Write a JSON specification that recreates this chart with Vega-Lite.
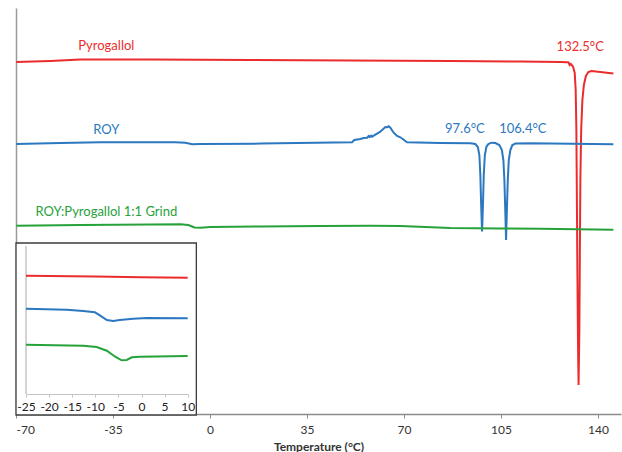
{
  "$schema": "https://vega.github.io/schema/vega-lite/v6.json",
  "width": 605,
  "height": 406,
  "autosize": {"type": "none"},
  "padding": {"left": 16, "top": 8, "right": 1, "bottom": 38},
  "config": {
    "view": {"stroke": null},
    "font": "Lato",
    "axis": {"labelFont": "Lato", "titleFont": "Lato", "grid": false}
  },
  "datasets": {
    "main": [
      {"s": "Pyrogallol", "T": -69.9, "v": 352},
      {"s": "Pyrogallol", "T": -57.6, "v": 353},
      {"s": "Pyrogallol", "T": -46.8, "v": 354.5},
      {"s": "Pyrogallol", "T": -21.5, "v": 354.5},
      {"s": "Pyrogallol", "T": 14.6, "v": 354},
      {"s": "Pyrogallol", "T": 50.6, "v": 353.5},
      {"s": "Pyrogallol", "T": 86.7, "v": 353},
      {"s": "Pyrogallol", "T": 112.0, "v": 352.5},
      {"s": "Pyrogallol", "T": 126.4, "v": 352},
      {"s": "Pyrogallol", "T": 128.85, "v": 351.7},
      {"s": "Pyrogallol", "T": 129.4, "v": 351.5},
      {"s": "Pyrogallol", "T": 129.78, "v": 349},
      {"s": "Pyrogallol", "T": 130.2, "v": 350},
      {"s": "Pyrogallol", "T": 131.0, "v": 347.3},
      {"s": "Pyrogallol", "T": 131.6, "v": 341},
      {"s": "Pyrogallol", "T": 131.95, "v": 324},
      {"s": "Pyrogallol", "T": 132.2, "v": 284},
      {"s": "Pyrogallol", "T": 132.38, "v": 214},
      {"s": "Pyrogallol", "T": 132.56, "v": 144},
      {"s": "Pyrogallol", "T": 132.78, "v": 74},
      {"s": "Pyrogallol", "T": 132.99, "v": 29},
      {"s": "Pyrogallol", "T": 133.28, "v": 84},
      {"s": "Pyrogallol", "T": 133.46, "v": 164},
      {"s": "Pyrogallol", "T": 133.64, "v": 234},
      {"s": "Pyrogallol", "T": 133.93, "v": 284},
      {"s": "Pyrogallol", "T": 134.37, "v": 314},
      {"s": "Pyrogallol", "T": 134.91, "v": 329},
      {"s": "Pyrogallol", "T": 135.63, "v": 338},
      {"s": "Pyrogallol", "T": 136.53, "v": 342},
      {"s": "Pyrogallol", "T": 137.62, "v": 343},
      {"s": "Pyrogallol", "T": 140.86, "v": 342},
      {"s": "Pyrogallol", "T": 145.55, "v": 340.5},

      {"s": "ROY", "T": -69.9, "v": 270},
      {"s": "ROY", "T": -54.0, "v": 271},
      {"s": "ROY", "T": -39.6, "v": 271.7},
      {"s": "ROY", "T": -12.5, "v": 271.7},
      {"s": "ROY", "T": -8.9, "v": 271.2},
      {"s": "ROY", "T": -6.4, "v": 269.8},
      {"s": "ROY", "T": -3.5, "v": 270},
      {"s": "ROY", "T": 18.2, "v": 270.4},
      {"s": "ROY", "T": 51.26, "v": 271.7},
      {"s": "ROY", "T": 52.08, "v": 274},
      {"s": "ROY", "T": 54.25, "v": 275},
      {"s": "ROY", "T": 55.44, "v": 276},
      {"s": "ROY", "T": 56.67, "v": 276.3},
      {"s": "ROY", "T": 57.25, "v": 278},
      {"s": "ROY", "T": 57.61, "v": 277},
      {"s": "ROY", "T": 58.11, "v": 278.3},
      {"s": "ROY", "T": 58.47, "v": 277.3},
      {"s": "ROY", "T": 59.66, "v": 279.3},
      {"s": "ROY", "T": 61.47, "v": 282.3},
      {"s": "ROY", "T": 63.27, "v": 287},
      {"s": "ROY", "T": 63.88, "v": 286.7},
      {"s": "ROY", "T": 64.46, "v": 287.7},
      {"s": "ROY", "T": 65.08, "v": 286.3},
      {"s": "ROY", "T": 66.27, "v": 281.3},
      {"s": "ROY", "T": 67.5, "v": 278},
      {"s": "ROY", "T": 68.69, "v": 276.7},
      {"s": "ROY", "T": 69.66, "v": 274.7},
      {"s": "ROY", "T": 71.1, "v": 271.7},
      {"s": "ROY", "T": 83.12, "v": 271},
      {"s": "ROY", "T": 93.95, "v": 270.7},
      {"s": "ROY", "T": 95.75, "v": 270},
      {"s": "ROY", "T": 96.65, "v": 267},
      {"s": "ROY", "T": 97.19, "v": 259},
      {"s": "ROY", "T": 97.55, "v": 239},
      {"s": "ROY", "T": 97.84, "v": 209},
      {"s": "ROY", "T": 98.17, "v": 182.5},
      {"s": "ROY", "T": 98.49, "v": 209},
      {"s": "ROY", "T": 98.78, "v": 239},
      {"s": "ROY", "T": 99.18, "v": 259},
      {"s": "ROY", "T": 99.72, "v": 267},
      {"s": "ROY", "T": 100.44, "v": 270},
      {"s": "ROY", "T": 101.53, "v": 271.3},
      {"s": "ROY", "T": 102.97, "v": 271},
      {"s": "ROY", "T": 104.41, "v": 269},
      {"s": "ROY", "T": 105.32, "v": 264},
      {"s": "ROY", "T": 105.86, "v": 254},
      {"s": "ROY", "T": 106.22, "v": 234},
      {"s": "ROY", "T": 106.54, "v": 204},
      {"s": "ROY", "T": 106.83, "v": 174},
      {"s": "ROY", "T": 107.12, "v": 204},
      {"s": "ROY", "T": 107.45, "v": 234},
      {"s": "ROY", "T": 107.81, "v": 254},
      {"s": "ROY", "T": 108.38, "v": 264},
      {"s": "ROY", "T": 109.11, "v": 269},
      {"s": "ROY", "T": 110.19, "v": 270.5},
      {"s": "ROY", "T": 115.6, "v": 270.7},
      {"s": "ROY", "T": 145.55, "v": 269.7},

      {"s": "Grind", "T": -69.9, "v": 188.3},
      {"s": "Grind", "T": -46.8, "v": 189},
      {"s": "Grind", "T": -21.5, "v": 189.5},
      {"s": "Grind", "T": -10.7, "v": 189.7},
      {"s": "Grind", "T": -7.8, "v": 189},
      {"s": "Grind", "T": -5.6, "v": 186.5},
      {"s": "Grind", "T": -3.5, "v": 186.3},
      {"s": "Grind", "T": 0.1, "v": 187},
      {"s": "Grind", "T": 18.2, "v": 187.5},
      {"s": "Grind", "T": 39.8, "v": 188},
      {"s": "Grind", "T": 57.8, "v": 188.3},
      {"s": "Grind", "T": 68.7, "v": 188},
      {"s": "Grind", "T": 86.7, "v": 186},
      {"s": "Grind", "T": 104.8, "v": 185.5},
      {"s": "Grind", "T": 119.2, "v": 185.3},
      {"s": "Grind", "T": 145.55, "v": 184.3}
    ],
    "inset": [
      {"s": "Pyrogallol", "T": -25, "v": 138.3},
      {"s": "Pyrogallol", "T": -10, "v": 137.5},
      {"s": "Pyrogallol", "T": 0, "v": 136.8},
      {"s": "Pyrogallol", "T": 10, "v": 136.3},
      {"s": "ROY", "T": -25, "v": 105.3},
      {"s": "ROY", "T": -16.2, "v": 104.3},
      {"s": "ROY", "T": -12.6, "v": 103},
      {"s": "ROY", "T": -10.1, "v": 101.7},
      {"s": "ROY", "T": -9, "v": 98.7},
      {"s": "ROY", "T": -7.5, "v": 94},
      {"s": "ROY", "T": -6.1, "v": 93},
      {"s": "ROY", "T": -4.7, "v": 94},
      {"s": "ROY", "T": -1.8, "v": 95.3},
      {"s": "ROY", "T": 1.1, "v": 96},
      {"s": "ROY", "T": 10, "v": 95.7},
      {"s": "Grind", "T": -25, "v": 69.3},
      {"s": "Grind", "T": -12.6, "v": 68.3},
      {"s": "Grind", "T": -9.7, "v": 67},
      {"s": "Grind", "T": -7.5, "v": 63.3},
      {"s": "Grind", "T": -5.7, "v": 57.3},
      {"s": "Grind", "T": -4.3, "v": 53.7},
      {"s": "Grind", "T": -3.2, "v": 54},
      {"s": "Grind", "T": -2.1, "v": 56.7},
      {"s": "Grind", "T": -0.3, "v": 57.3},
      {"s": "Grind", "T": 10, "v": 58}
    ],
    "labels": [
      {"s": "Pyrogallol", "T": -37.4, "v": 368, "label": "Pyrogallol"},
      {"s": "ROY", "T": -37.4, "v": 284, "label": "ROY"},
      {"s": "Grind", "T": -37.4, "v": 202, "label": "ROY:Pyrogallol 1:1 Grind"},
      {"s": "Pyrogallol", "T": 133.6, "v": 367, "label": "132.5°C"},
      {"s": "ROY", "T": 91.96, "v": 285, "label": "97.6°C"},
      {"s": "ROY", "T": 112.9, "v": 285, "label": "106.4°C"}
    ],
    "box": [
      {"x1": -70, "x2": -4.93, "y1": -1, "y2": 171}
    ],
    "insetaxis": [
      {"T": -25, "v1": 20, "v2": 168}
    ]
  },
  "layer": [
    {
      "encoding": {
        "x": {
          "type": "quantitative",
          "scale": {"domain": [-70, 148.3], "nice": false, "zero": false},
          "axis": {
            "values": [-70, -35, 0, 35, 70, 105, 140],
            "labelExpr": "'' + datum.value",
            "title": "Temperature (°C)",
            "domainColor": "#8c8c8c",
            "domainWidth": 1.3,
            "tickColor": "#8c8c8c",
            "tickSize": 4,
            "labelFontSize": 12,
            "labelColor": "#333333",
            "labelPadding": 6,
            "titleFontSize": 12,
            "titleFontWeight": "bold",
            "titleColor": "#333333",
            "titlePadding": 6
          }
        },
        "y": {
          "type": "quantitative",
          "scale": {"domain": [0, 406], "nice": false, "zero": false},
          "axis": {"title": null, "labels": false, "ticks": false, "domainColor": "#9a9a9a", "domainWidth": 1.5}
        }
      },
      "layer": [
        {
          "data": {"name": "main"},
          "mark": {"type": "line", "strokeWidth": 2},
          "encoding": {
            "x": {"field": "T", "type": "quantitative"},
            "y": {"field": "v", "type": "quantitative"},
            "color": {
              "field": "s", "type": "nominal", "legend": null,
              "scale": {"domain": ["Pyrogallol", "ROY", "Grind"], "range": ["#ec2c2c", "#2b78c0", "#27a23b"]}
            }
          }
        },
        {
          "data": {"name": "labels"},
          "mark": {"type": "text", "fontSize": 13, "font": "Lato"},
          "encoding": {
            "x": {"field": "T", "type": "quantitative"},
            "y": {"field": "v", "type": "quantitative"},
            "text": {"field": "label"},
            "color": {"field": "s", "type": "nominal", "legend": null}
          }
        },
        {
          "data": {"name": "box"},
          "mark": {"type": "rect", "fill": "white", "stroke": "#3c3c3c", "strokeWidth": 1.3},
          "encoding": {
            "x": {"field": "x1", "type": "quantitative"},
            "x2": {"field": "x2"},
            "y": {"field": "y1", "type": "quantitative"},
            "y2": {"field": "y2"}
          }
        }
      ]
    },
    {
      "encoding": {
        "x": {
          "type": "quantitative",
          "scale": {"domain": [-25, 10], "range": [10, 171.7], "nice": false, "zero": false},
          "axis": {
            "orient": "bottom",
            "offset": -20,
            "zindex": 2,
            "values": [-25, -20, -15, -10, -5, 0, 5, 10],
            "labelExpr": "'' + datum.value",
            "labelOverlap": false,
            "labelBound": false,
            "labelFlush": false,
            "title": null,
            "domainColor": "#c4c4c4",
            "domainWidth": 1.2,
            "tickColor": "#c4c4c4",
            "tickSize": 3,
            "labelFontSize": 12,
            "labelColor": "#222222",
            "labelPadding": 4
          }
        }
      },
      "layer": [
        {
          "data": {"name": "insetaxis"},
          "mark": {"type": "rule", "color": "#c4c4c4", "strokeWidth": 1.5},
          "encoding": {
            "x": {"field": "T", "type": "quantitative"},
            "y": {"field": "v1", "type": "quantitative"},
            "y2": {"field": "v2"}
          }
        },
        {
          "data": {"name": "inset"},
          "mark": {"type": "line", "strokeWidth": 2},
          "encoding": {
            "x": {"field": "T", "type": "quantitative"},
            "y": {"field": "v", "type": "quantitative"},
            "color": {"field": "s", "type": "nominal", "legend": null}
          }
        }
      ]
    }
  ],
  "resolve": {"scale": {"x": "independent"}, "axis": {"x": "independent"}}
}
